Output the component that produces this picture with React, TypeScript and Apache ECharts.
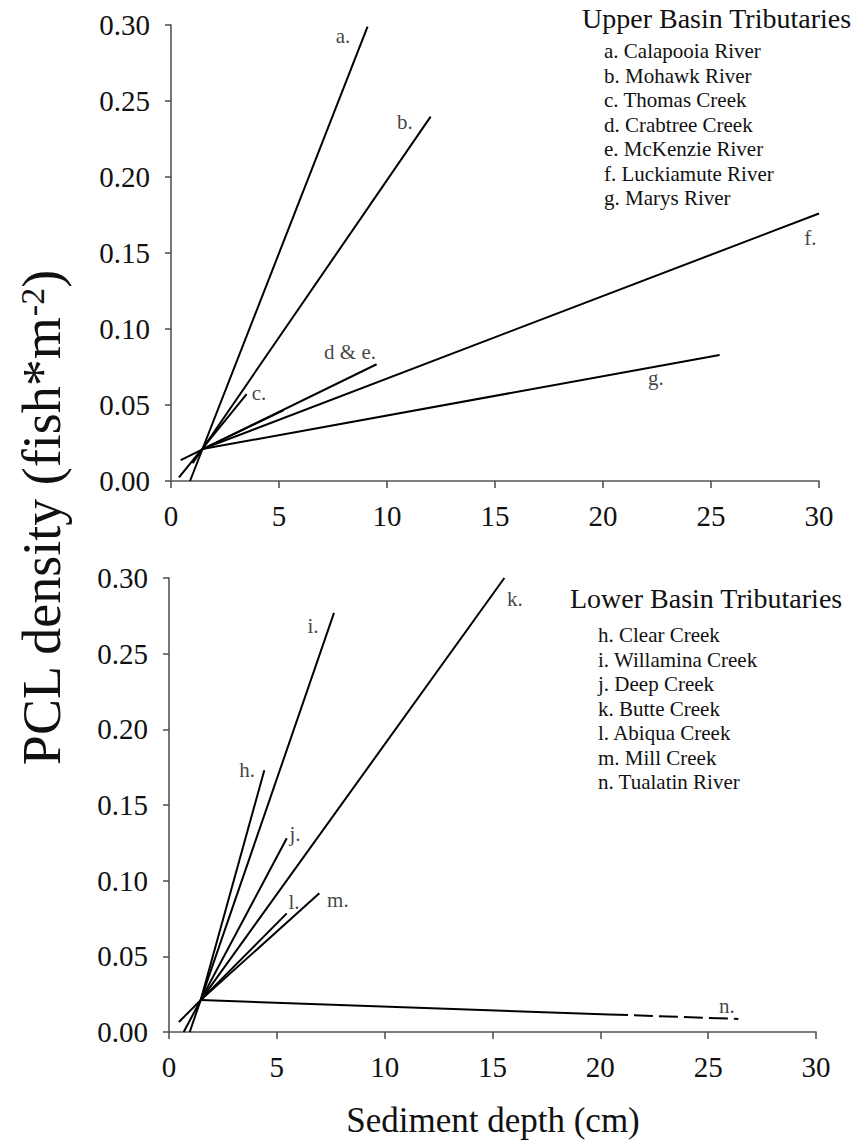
import React, { useEffect, useRef } from "react";
import * as echarts from "echarts";

const FONT = "Liberation Serif";

// Axis ranges / ticks
const xMin = 0, xMax = 30, xStep = 5;
const yMin = 0, yMax = 0.3, yStep = 0.05;

// Legend texts
const upperTitle = "Upper Basin Tributaries";
const upperNames = [
  "a. Calapooia River",
  "b. Mohawk River",
  "c. Thomas Creek",
  "d. Crabtree Creek",
  "e. McKenzie River",
  "f. Luckiamute River",
  "g. Marys River",
];
const lowerTitle = "Lower Basin Tributaries";
const lowerNames = [
  "h. Clear Creek",
  "i. Willamina Creek",
  "j. Deep Creek",
  "k. Butte Creek",
  "l. Abiqua Creek",
  "m. Mill Creek",
  "n. Tualatin River",
];

// Regression lines (start, end) in data units
const upperLines = [
  { id: "a", pts: [[0.88, 0.0], [9.1, 0.299]] },
  { id: "b", pts: [[1.0, 0.0117], [12.02, 0.2397]] },
  { id: "c", pts: [[0.37, 0.0024], [3.5, 0.0572]] },
  { id: "d", pts: [[0.45, 0.0138], [9.52, 0.0768]] },
  { id: "e", pts: [[1.45, 0.021], [5.2, 0.0465]] },
  { id: "f", pts: [[1.45, 0.021], [30, 0.176]] },
  { id: "g", pts: [[1.45, 0.021], [25.4, 0.0829]] },
];
const lowerLines = [
  { id: "h", pts: [[1.47, 0.0211], [4.42, 0.173]] },
  { id: "i", pts: [[0.96, 0.0], [7.65, 0.277]] },
  { id: "j", pts: [[0.68, 0.0], [5.46, 0.128]] },
  { id: "k", pts: [[1.47, 0.0211], [15.55, 0.3]] },
  { id: "l", pts: [[0.46, 0.0066], [5.46, 0.0784]] },
  { id: "m", pts: [[1.47, 0.0211], [6.97, 0.0917]] },
  { id: "n", pts: [[1.47, 0.0211], [20.4, 0.0116]] },
];
const lowerDashed = [{ id: "n2", pts: [[20.4, 0.0116], [26.4, 0.0086]] }];

// In-plot line labels at data coordinates
const upperLabels = [
  { text: "a.", at: [7.96, 0.293] },
  { text: "b.", at: [10.83, 0.236] },
  { text: "c.", at: [4.07, 0.058] },
  { text: "d & e.", at: [8.29, 0.085] },
  { text: "f.", at: [29.6, 0.16] },
  { text: "g.", at: [22.45, 0.068] },
];
const lowerLabels = [
  { text: "h.", at: [3.62, 0.173] },
  { text: "i.", at: [6.68, 0.268] },
  { text: "j.", at: [5.84, 0.131] },
  { text: "k.", at: [16.04, 0.286] },
  { text: "l.", at: [5.8, 0.086] },
  { text: "m.", at: [7.83, 0.087] },
  { text: "n.", at: [25.87, 0.0172] },
];

const AXIS_COLOR = "#555";

function xAxisCfg(gridIndex: number) {
  return {
    type: "value",
    gridIndex,
    min: xMin,
    max: xMax,
    interval: xStep,
    axisLine: { show: true, lineStyle: { color: AXIS_COLOR, width: 1.6 } },
    axisTick: { show: true, length: 7, lineStyle: { color: AXIS_COLOR, width: 1.6 } },
    axisLabel: { fontFamily: FONT, fontSize: 29, color: "#111", margin: 20 },
    splitLine: { show: false },
  };
}
function yAxisCfg(gridIndex: number) {
  return {
    type: "value",
    gridIndex,
    min: yMin,
    max: yMax,
    interval: yStep,
    axisLine: { show: true, lineStyle: { color: AXIS_COLOR, width: 1.6 } },
    axisTick: { show: true, length: 6, lineStyle: { color: AXIS_COLOR, width: 1.6 } },
    axisLabel: {
      fontFamily: FONT,
      fontSize: 29,
      color: "#111",
      margin: 21,
      formatter: (v: number) => v.toFixed(2),
    },
    splitLine: { show: false },
  };
}

function lineSeries(lines: any[], idx: number, dashed = false) {
  return lines.map((l) => ({
    type: "line",
    name: l.id,
    xAxisIndex: idx,
    yAxisIndex: idx,
    data: l.pts,
    showSymbol: false,
    symbol: "none",
    lineStyle: { color: "#000", width: 2, type: dashed ? [19, 6] : "solid" },
    silent: true,
    z: 3,
  }));
}

function labelSeries(labels: any[], idx: number) {
  return {
    type: "scatter",
    xAxisIndex: idx,
    yAxisIndex: idx,
    symbolSize: 0,
    silent: true,
    data: labels.map((l) => ({ value: l.at, name: l.text })),
    label: {
      show: true,
      position: "inside",
      formatter: (p: any) => p.name,
      fontFamily: FONT,
      fontSize: 21,
      color: "#111",
    },
  };
}

function legendGraphics(title: string, names: string[], titleX: number, titleY: number, itemX: number, itemY: number) {
  const els: any[] = [
    {
      type: "text",
      x: titleX,
      y: titleY,
      style: { text: title, fontFamily: FONT, fontSize: 28, fill: "#111", align: "left", verticalAlign: "middle" },
    },
  ];
  names.forEach((n, i) => {
    els.push({
      type: "text",
      x: itemX,
      y: itemY + i * 24.5,
      style: { text: n, fontFamily: FONT, fontSize: 21, fill: "#111", align: "left", verticalAlign: "middle" },
    });
  });
  return els;
}

export default function App() {
  const ref = useRef<HTMLDivElement>(null);
  useEffect(() => {
    if (!ref.current) return;
    const chart = echarts.init(ref.current, undefined, { renderer: "svg" });
    const option: any = {
      animation: false,
      backgroundColor: "#fff",
      textStyle: { fontFamily: FONT },
      grid: [
        { left: 171, top: 25, width: 648, height: 456 },
        { left: 169, top: 578, width: 647, height: 454 },
      ],
      xAxis: [xAxisCfg(0), xAxisCfg(1)],
      yAxis: [yAxisCfg(0), yAxisCfg(1)],
      series: [
        ...lineSeries(upperLines, 0),
        ...lineSeries(lowerLines, 1),
        ...lineSeries(lowerDashed, 1, true),
        labelSeries(upperLabels, 0),
        labelSeries(lowerLabels, 1),
      ],
      graphic: [
        ...legendGraphics(upperTitle, upperNames, 582, 18.5, 604, 51),
        ...legendGraphics(lowerTitle, lowerNames, 570, 598.5, 598, 635),
        {
          type: "text",
          x: 493,
          y: 1120,
          style: {
            text: "Sediment depth (cm)",
            fontFamily: FONT,
            fontSize: 35,
            fill: "#111",
            align: "center",
            verticalAlign: "middle",
          },
        },
        {
          type: "text",
          x: 42,
          y: 518,
          rotation: Math.PI / 2,
          style: {
            text: "PCL density (fish*m{sup|-2})",
            fontFamily: FONT,
            fontSize: 54,
            fill: "#111",
            align: "center",
            verticalAlign: "middle",
            rich: {
              sup: { fontSize: 34, fontFamily: FONT, fill: "#111", verticalAlign: "top", lineHeight: 54 },
            },
          },
        },
      ],
    };
    chart.setOption(option);
    return () => chart.dispose();
  }, []);
  return (
    <div
      ref={ref}
      style={{ position: "fixed", left: 0, top: 0, width: 857, height: 1144, background: "#fff" }}
    />
  );
}
